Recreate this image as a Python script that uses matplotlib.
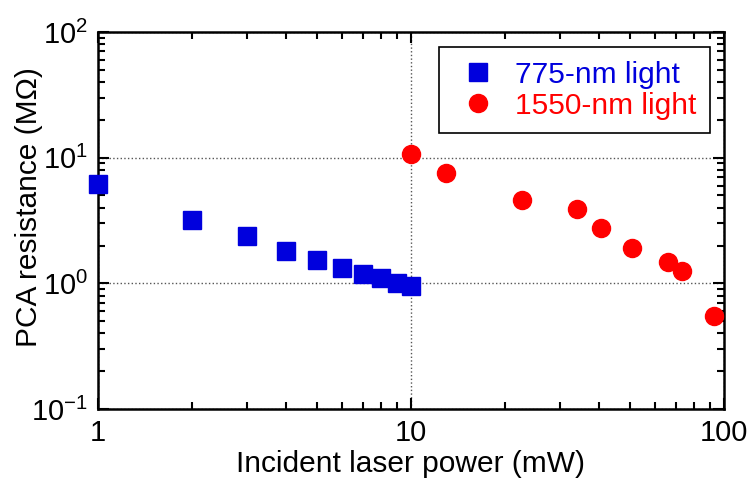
import matplotlib
matplotlib.use('Agg')
import matplotlib.pyplot as plt
from matplotlib.ticker import LogLocator, NullFormatter, FixedFormatter, FixedLocator

plt.rcParams['font.family'] = ['Liberation Sans', 'DejaVu Sans']
plt.rcParams['mathtext.default'] = 'regular'

# 775-nm data
power_775 = [1, 2, 3, 4, 5, 6, 7, 8, 9, 10]
res_775 = [6.2, 3.2, 2.38, 1.81, 1.53, 1.32, 1.19, 1.10, 1.0, 0.96]

# 1550-nm data
power_1550 = [10.0, 12.9, 22.7, 33.8, 40.4, 50.7, 66.4, 73.6, 93.1]
res_1550 = [10.6, 7.5, 4.6, 3.9, 2.77, 1.9, 1.49, 1.26, 0.55]

x_ticks = [1, 10, 100]
x_tick_labels = ['1', '10', '100']
y_ticks = [0.1, 1, 10, 100]
y_tick_labels = ['$10^{-1}$', '$10^{0}$', '$10^{1}$', '$10^{2}$']

fig = plt.figure(figsize=(7.51, 4.79), dpi=100)
ax = fig.add_axes([98/751, 1 - 409/479, (724 - 98)/751, (409 - 32)/479])

ax.plot(power_775, res_775, 's', color='#0000dd', markersize=12.5, label='775-nm light', clip_on=False, zorder=3)
ax.plot(power_1550, res_1550, 'o', color='#ff0000', markersize=13, label='1550-nm light', clip_on=False, zorder=3)

ax.set_xscale('log')
ax.set_yscale('log')
ax.set_xlim(1, 100)
ax.set_ylim(0.1, 100)

ax.xaxis.set_major_locator(FixedLocator(x_ticks))
ax.xaxis.set_major_formatter(FixedFormatter(x_tick_labels))
ax.yaxis.set_major_locator(FixedLocator(y_ticks))
ax.yaxis.set_major_formatter(FixedFormatter(y_tick_labels))
ax.xaxis.set_minor_locator(LogLocator(base=10, subs=range(2, 10)))
ax.yaxis.set_minor_locator(LogLocator(base=10, subs=range(2, 10)))
ax.xaxis.set_minor_formatter(NullFormatter())
ax.yaxis.set_minor_formatter(NullFormatter())

ax.tick_params(which='both', direction='in', top=True, right=True, width=1.5, labelsize=21)
ax.tick_params(which='major', length=8, pad=7)
ax.tick_params(which='minor', length=5)
for s in ax.spines.values():
    s.set_linewidth(1.8)

ax.grid(True, which='major', linestyle=':', color='#555555', linewidth=1)

ax.set_xlabel('Incident laser power (mW)', fontsize=21.5, labelpad=2)
ax.set_ylabel('PCA resistance (M\u03a9)', fontsize=21.5)
ax.yaxis.set_label_coords(-0.088, 0.536)

leg = ax.legend(loc='upper right', bbox_to_anchor=(0.978, 0.96), borderaxespad=0, fontsize=21.5,
                frameon=True, fancybox=False, edgecolor='black', framealpha=1,
                handlelength=1.7, handletextpad=0.4, borderpad=0.45, labelspacing=0.1)
leg.get_frame().set_linewidth(1.2)
for t, c in zip(leg.get_texts(), ['#0000dd', '#ff0000']):
    t.set_color(c)

fig.savefig('out.png', dpi=100)
